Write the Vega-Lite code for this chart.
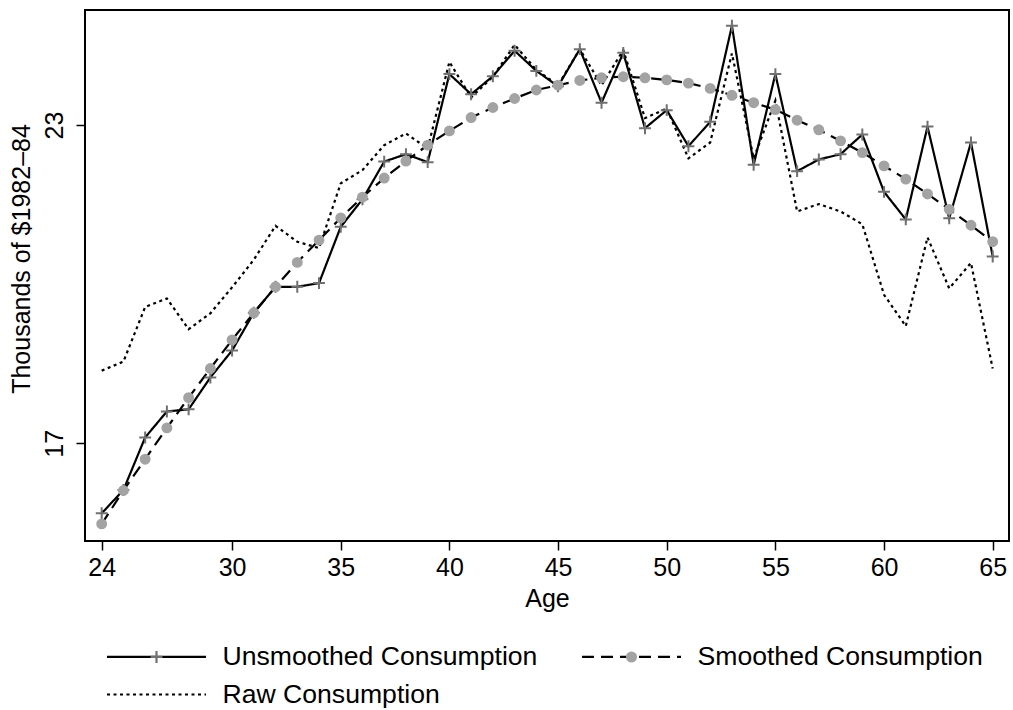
{
  "$schema": "https://vega.github.io/schema/vega-lite/v6.json",
  "width": 924,
  "height": 531,
  "autosize": {"type": "none"},
  "padding": {"left": 85, "top": 10, "right": 4, "bottom": 169},
  "background": "white",
  "config": {
    "font": "Liberation Sans",
    "view": {"stroke": "#000", "strokeWidth": 2},
    "axis": {"grid": false, "domain": false, "tickColor": "#000", "tickWidth": 1.5, "tickSize": 9, "labelColor": "#000", "titleColor": "#000", "labelFontSize": 25, "titleFontSize": 25, "titleFontWeight": "normal", "labelFont": "Liberation Sans", "titleFont": "Liberation Sans"}
  },
  "data": {"values": [
    {"age": 24, "series": "Unsmoothed Consumption", "value": 15.68},
    {"age": 25, "series": "Unsmoothed Consumption", "value": 16.12},
    {"age": 26, "series": "Unsmoothed Consumption", "value": 17.11},
    {"age": 27, "series": "Unsmoothed Consumption", "value": 17.60},
    {"age": 28, "series": "Unsmoothed Consumption", "value": 17.64},
    {"age": 29, "series": "Unsmoothed Consumption", "value": 18.24},
    {"age": 30, "series": "Unsmoothed Consumption", "value": 18.75},
    {"age": 31, "series": "Unsmoothed Consumption", "value": 19.46},
    {"age": 32, "series": "Unsmoothed Consumption", "value": 19.95},
    {"age": 33, "series": "Unsmoothed Consumption", "value": 19.95},
    {"age": 34, "series": "Unsmoothed Consumption", "value": 20.02},
    {"age": 35, "series": "Unsmoothed Consumption", "value": 21.08},
    {"age": 36, "series": "Unsmoothed Consumption", "value": 21.60},
    {"age": 37, "series": "Unsmoothed Consumption", "value": 22.31},
    {"age": 38, "series": "Unsmoothed Consumption", "value": 22.45},
    {"age": 39, "series": "Unsmoothed Consumption", "value": 22.30},
    {"age": 40, "series": "Unsmoothed Consumption", "value": 23.96},
    {"age": 41, "series": "Unsmoothed Consumption", "value": 23.58},
    {"age": 42, "series": "Unsmoothed Consumption", "value": 23.92},
    {"age": 43, "series": "Unsmoothed Consumption", "value": 24.40},
    {"age": 44, "series": "Unsmoothed Consumption", "value": 24.02},
    {"age": 45, "series": "Unsmoothed Consumption", "value": 23.73},
    {"age": 46, "series": "Unsmoothed Consumption", "value": 24.43},
    {"age": 47, "series": "Unsmoothed Consumption", "value": 23.42},
    {"age": 48, "series": "Unsmoothed Consumption", "value": 24.36},
    {"age": 49, "series": "Unsmoothed Consumption", "value": 22.94},
    {"age": 50, "series": "Unsmoothed Consumption", "value": 23.28},
    {"age": 51, "series": "Unsmoothed Consumption", "value": 22.60},
    {"age": 52, "series": "Unsmoothed Consumption", "value": 23.06},
    {"age": 53, "series": "Unsmoothed Consumption", "value": 24.87},
    {"age": 54, "series": "Unsmoothed Consumption", "value": 22.25},
    {"age": 55, "series": "Unsmoothed Consumption", "value": 23.96},
    {"age": 56, "series": "Unsmoothed Consumption", "value": 22.13},
    {"age": 57, "series": "Unsmoothed Consumption", "value": 22.35},
    {"age": 58, "series": "Unsmoothed Consumption", "value": 22.45},
    {"age": 59, "series": "Unsmoothed Consumption", "value": 22.82},
    {"age": 60, "series": "Unsmoothed Consumption", "value": 21.74},
    {"age": 61, "series": "Unsmoothed Consumption", "value": 21.22},
    {"age": 62, "series": "Unsmoothed Consumption", "value": 22.97},
    {"age": 63, "series": "Unsmoothed Consumption", "value": 21.24},
    {"age": 64, "series": "Unsmoothed Consumption", "value": 22.67},
    {"age": 65, "series": "Unsmoothed Consumption", "value": 20.52},
    {"age": 24, "series": "Smoothed Consumption", "value": 15.48},
    {"age": 25, "series": "Smoothed Consumption", "value": 16.11},
    {"age": 26, "series": "Smoothed Consumption", "value": 16.70},
    {"age": 27, "series": "Smoothed Consumption", "value": 17.29},
    {"age": 28, "series": "Smoothed Consumption", "value": 17.86},
    {"age": 29, "series": "Smoothed Consumption", "value": 18.41},
    {"age": 30, "series": "Smoothed Consumption", "value": 18.95},
    {"age": 31, "series": "Smoothed Consumption", "value": 19.46},
    {"age": 32, "series": "Smoothed Consumption", "value": 19.95},
    {"age": 33, "series": "Smoothed Consumption", "value": 20.41},
    {"age": 34, "series": "Smoothed Consumption", "value": 20.83},
    {"age": 35, "series": "Smoothed Consumption", "value": 21.25},
    {"age": 36, "series": "Smoothed Consumption", "value": 21.64},
    {"age": 37, "series": "Smoothed Consumption", "value": 22.00},
    {"age": 38, "series": "Smoothed Consumption", "value": 22.32},
    {"age": 39, "series": "Smoothed Consumption", "value": 22.62},
    {"age": 40, "series": "Smoothed Consumption", "value": 22.89},
    {"age": 41, "series": "Smoothed Consumption", "value": 23.14},
    {"age": 42, "series": "Smoothed Consumption", "value": 23.33},
    {"age": 43, "series": "Smoothed Consumption", "value": 23.50},
    {"age": 44, "series": "Smoothed Consumption", "value": 23.66},
    {"age": 45, "series": "Smoothed Consumption", "value": 23.75},
    {"age": 46, "series": "Smoothed Consumption", "value": 23.84},
    {"age": 47, "series": "Smoothed Consumption", "value": 23.89},
    {"age": 48, "series": "Smoothed Consumption", "value": 23.91},
    {"age": 49, "series": "Smoothed Consumption", "value": 23.89},
    {"age": 50, "series": "Smoothed Consumption", "value": 23.85},
    {"age": 51, "series": "Smoothed Consumption", "value": 23.79},
    {"age": 52, "series": "Smoothed Consumption", "value": 23.69},
    {"age": 53, "series": "Smoothed Consumption", "value": 23.56},
    {"age": 54, "series": "Smoothed Consumption", "value": 23.42},
    {"age": 55, "series": "Smoothed Consumption", "value": 23.29},
    {"age": 56, "series": "Smoothed Consumption", "value": 23.09},
    {"age": 57, "series": "Smoothed Consumption", "value": 22.91},
    {"age": 58, "series": "Smoothed Consumption", "value": 22.70},
    {"age": 59, "series": "Smoothed Consumption", "value": 22.48},
    {"age": 60, "series": "Smoothed Consumption", "value": 22.23},
    {"age": 61, "series": "Smoothed Consumption", "value": 21.98},
    {"age": 62, "series": "Smoothed Consumption", "value": 21.70},
    {"age": 63, "series": "Smoothed Consumption", "value": 21.41},
    {"age": 64, "series": "Smoothed Consumption", "value": 21.11},
    {"age": 65, "series": "Smoothed Consumption", "value": 20.80},
    {"age": 24, "series": "Raw Consumption", "value": 18.37},
    {"age": 25, "series": "Raw Consumption", "value": 18.54},
    {"age": 26, "series": "Raw Consumption", "value": 19.57},
    {"age": 27, "series": "Raw Consumption", "value": 19.73},
    {"age": 28, "series": "Raw Consumption", "value": 19.15},
    {"age": 29, "series": "Raw Consumption", "value": 19.45},
    {"age": 30, "series": "Raw Consumption", "value": 19.94},
    {"age": 31, "series": "Raw Consumption", "value": 20.46},
    {"age": 32, "series": "Raw Consumption", "value": 21.10},
    {"age": 33, "series": "Raw Consumption", "value": 20.80},
    {"age": 34, "series": "Raw Consumption", "value": 20.68},
    {"age": 35, "series": "Raw Consumption", "value": 21.90},
    {"age": 36, "series": "Raw Consumption", "value": 22.15},
    {"age": 37, "series": "Raw Consumption", "value": 22.62},
    {"age": 38, "series": "Raw Consumption", "value": 22.84},
    {"age": 39, "series": "Raw Consumption", "value": 22.56},
    {"age": 40, "series": "Raw Consumption", "value": 24.19},
    {"age": 41, "series": "Raw Consumption", "value": 23.52},
    {"age": 42, "series": "Raw Consumption", "value": 23.91},
    {"age": 43, "series": "Raw Consumption", "value": 24.51},
    {"age": 44, "series": "Raw Consumption", "value": 24.04},
    {"age": 45, "series": "Raw Consumption", "value": 23.75},
    {"age": 46, "series": "Raw Consumption", "value": 24.43},
    {"age": 47, "series": "Raw Consumption", "value": 23.75},
    {"age": 48, "series": "Raw Consumption", "value": 24.41},
    {"age": 49, "series": "Raw Consumption", "value": 23.13},
    {"age": 50, "series": "Raw Consumption", "value": 23.31},
    {"age": 51, "series": "Raw Consumption", "value": 22.37},
    {"age": 52, "series": "Raw Consumption", "value": 22.67},
    {"age": 53, "series": "Raw Consumption", "value": 24.35},
    {"age": 54, "series": "Raw Consumption", "value": 22.37},
    {"age": 55, "series": "Raw Consumption", "value": 23.46},
    {"age": 56, "series": "Raw Consumption", "value": 21.37},
    {"age": 57, "series": "Raw Consumption", "value": 21.51},
    {"age": 58, "series": "Raw Consumption", "value": 21.37},
    {"age": 59, "series": "Raw Consumption", "value": 21.13},
    {"age": 60, "series": "Raw Consumption", "value": 19.80},
    {"age": 61, "series": "Raw Consumption", "value": 19.21},
    {"age": 62, "series": "Raw Consumption", "value": 20.88},
    {"age": 63, "series": "Raw Consumption", "value": 19.92},
    {"age": 64, "series": "Raw Consumption", "value": 20.40},
    {"age": 65, "series": "Raw Consumption", "value": 18.41}
  ]},
  "layer": [
    {
      "mark": {"type": "line", "color": "#000", "strokeWidth": 2.2},
      "encoding": {
        "x": {"field": "age", "type": "quantitative",
          "scale": {"domain": [23.232, 65.75], "nice": false, "zero": false},
          "axis": {"values": [24, 30, 35, 40, 45, 50, 55, 60, 65], "title": "Age", "labelBaseline": "alphabetic", "labelPadding": 25.5, "titleBaseline": "alphabetic", "titleY": 65, "labelFlush": false, "labelOverlap": false}},
        "y": {"field": "value", "type": "quantitative",
          "scale": {"domain": [15.158, 25.168], "nice": false, "zero": false},
          "axis": {"values": [17, 23], "title": "Thousands of $1982–84", "labelAngle": -90, "labelAlign": "center", "labelBaseline": "alphabetic", "labelPadding": 14, "titleAngle": -90, "titleBaseline": "alphabetic", "titleX": -55.5, "titleY": 248.5, "labelOverlap": false}},
        "strokeDash": {"field": "series", "type": "nominal",
          "scale": {"domain": ["Unsmoothed Consumption", "Smoothed Consumption", "Raw Consumption"], "range": [[1, 0], [12, 7], [3, 3.5]]},
          "legend": {"orient": "none", "legendX": 20.5, "legendY": 634, "direction": "horizontal", "title": null, "columns": 2, "symbolType": "stroke", "symbolSize": 9801, "symbolStrokeWidth": 2.2, "symbolStrokeColor": "#000", "labelFontSize": 26.6, "labelFont": "Liberation Sans", "labelColor": "#000", "labelOffset": 15, "columnPadding": 43, "rowPadding": 10, "clipHeight": 25, "labelLimit": 1000, "zindex": 0, "padding": 0}}
      }
    },
    {
      "transform": [{"filter": "datum.series !== 'Raw Consumption'"}],
      "mark": {"type": "point", "filled": true, "size": 9801, "opacity": 1, "strokeWidth": 2},
      "encoding": {
        "x": {"field": "age", "type": "quantitative"},
        "y": {"field": "value", "type": "quantitative"},
        "shape": {"field": "series", "type": "nominal",
          "scale": {"domain": ["Unsmoothed Consumption", "Smoothed Consumption"], "range": ["M-0.12,0H0.12M0,-0.12V0.12", "M0.09,0A0.09,0.09,0,1,1,-0.09,0A0.09,0.09,0,1,1,0.09,0Z"]},
          "legend": {"orient": "none", "legendX": 20.5, "legendY": 634, "direction": "horizontal", "title": null, "columns": 2, "symbolSize": 9801, "symbolStrokeWidth": 2.2, "symbolOpacity": 1, "labelFontSize": 26.6, "labelFont": "Liberation Sans", "labelOpacity": 0, "labelOffset": 15, "columnPadding": 43, "rowPadding": 10, "clipHeight": 25, "labelLimit": 1000, "zindex": 1, "padding": 0}},
        "fill": {"field": "series", "type": "nominal",
          "scale": {"domain": ["Unsmoothed Consumption", "Smoothed Consumption"], "range": ["#707070", "#a3a3a3"]},
          "legend": {"orient": "none", "legendX": 20.5, "legendY": 634, "direction": "horizontal", "title": null, "columns": 2, "symbolSize": 9801, "symbolStrokeWidth": 2.2, "symbolOpacity": 1, "labelFontSize": 26.6, "labelFont": "Liberation Sans", "labelOpacity": 0, "labelOffset": 15, "columnPadding": 43, "rowPadding": 10, "clipHeight": 25, "labelLimit": 1000, "zindex": 1, "padding": 0}},
        "stroke": {"field": "series", "type": "nominal",
          "scale": {"domain": ["Unsmoothed Consumption", "Smoothed Consumption"], "range": ["#707070", "#a3a3a3"]},
          "legend": {"orient": "none", "legendX": 20.5, "legendY": 634, "direction": "horizontal", "title": null, "columns": 2, "symbolSize": 9801, "symbolStrokeWidth": 2.2, "symbolOpacity": 1, "labelFontSize": 26.6, "labelFont": "Liberation Sans", "labelOpacity": 0, "labelOffset": 15, "columnPadding": 43, "rowPadding": 10, "clipHeight": 25, "labelLimit": 1000, "zindex": 1, "padding": 0}}
      }
    }
  ]
}
